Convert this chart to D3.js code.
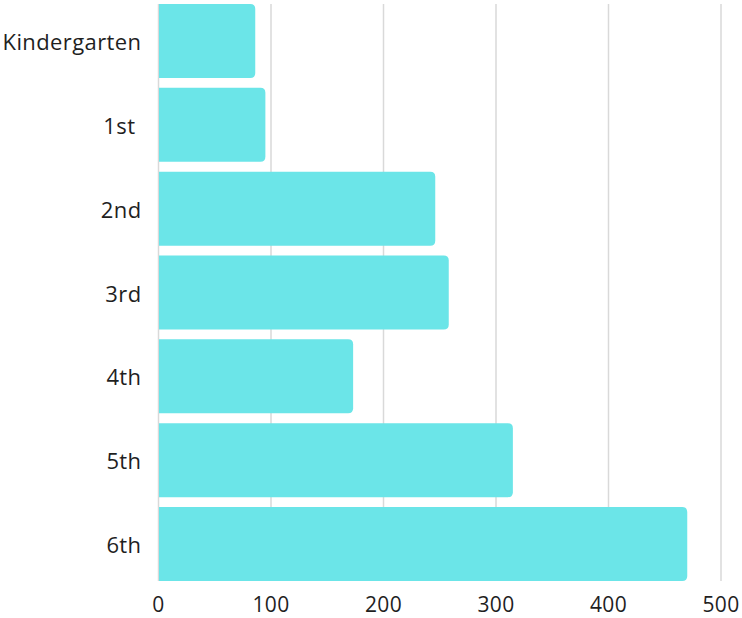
<!DOCTYPE html>
<html>
<head>
<meta charset="utf-8">
<script src="https://cdn.jsdelivr.net/npm/d3@7"></script>
<style>
  html, body { margin: 0; padding: 0; background: #ffffff; }
  svg { display: block; }
  text { font-family: "Open Sans", sans-serif; fill: #1f1f1f; letter-spacing: 0.4px; }
</style>
</head>
<body>
<div id="chart"></div>
<script>
// Enrollment by grade
const grades = ["Kindergarten", "1st ", "2nd", "3rd", "4th", "5th", "6th"];
const students = [86, 95, 246, 258, 173, 315, 470];
const xTicks = [0, 100, 200, 300, 400, 500];

const width = 742, height = 618;
const margin = { top: 4, right: 21, bottom: 37, left: 158.5 };

const svg = d3.select("#chart").append("svg")
  .attr("width", width)
  .attr("height", height);

const x = d3.scaleLinear()
  .domain([0, 500])
  .range([margin.left, width - margin.right]);

const y = d3.scaleBand()
  .domain(grades)
  .range([margin.top, height - margin.bottom])
  .paddingInner(0.118)
  .paddingOuter(0);

// vertical gridlines
svg.append("g")
  .selectAll("line")
  .data(xTicks)
  .join("line")
  .attr("x1", d => x(d))
  .attr("x2", d => x(d))
  .attr("y1", margin.top)
  .attr("y2", height - margin.bottom)
  .attr("stroke", "#d9d9d9")
  .attr("stroke-width", 1.5);

// bars with rounded right ends
const r = 5;
svg.append("g")
  .selectAll("path")
  .data(grades.map((g, i) => ({ g, v: students[i] })))
  .join("path")
  .attr("fill", "#6be5e8")
  .attr("d", d => {
    const x0 = x(0) + 0.5, x1 = x(d.v), y0 = y(d.g), h = y.bandwidth();
    return `M${x0},${y0} H${x1 - r} Q${x1},${y0} ${x1},${y0 + r} V${y0 + h - r} Q${x1},${y0 + h} ${x1 - r},${y0 + h} H${x0} Z`;
  });

// category labels
svg.append("g")
  .selectAll("text")
  .data(grades)
  .join("text")
  .attr("x", margin.left - 17)
  .attr("y", d => y(d) + y.bandwidth() / 2)
  .attr("text-anchor", "end")
  .attr("dominant-baseline", "central")
  .style("white-space", "pre")
  .attr("font-size", 22)
  .text(d => d);

// value axis labels
svg.append("g")
  .selectAll("text")
  .data(xTicks)
  .join("text")
  .attr("x", d => x(d))
  .attr("y", 612)
  .attr("text-anchor", "middle")
  .attr("font-size", 21)
  .text(d => d);
</script>
</body>
</html>
